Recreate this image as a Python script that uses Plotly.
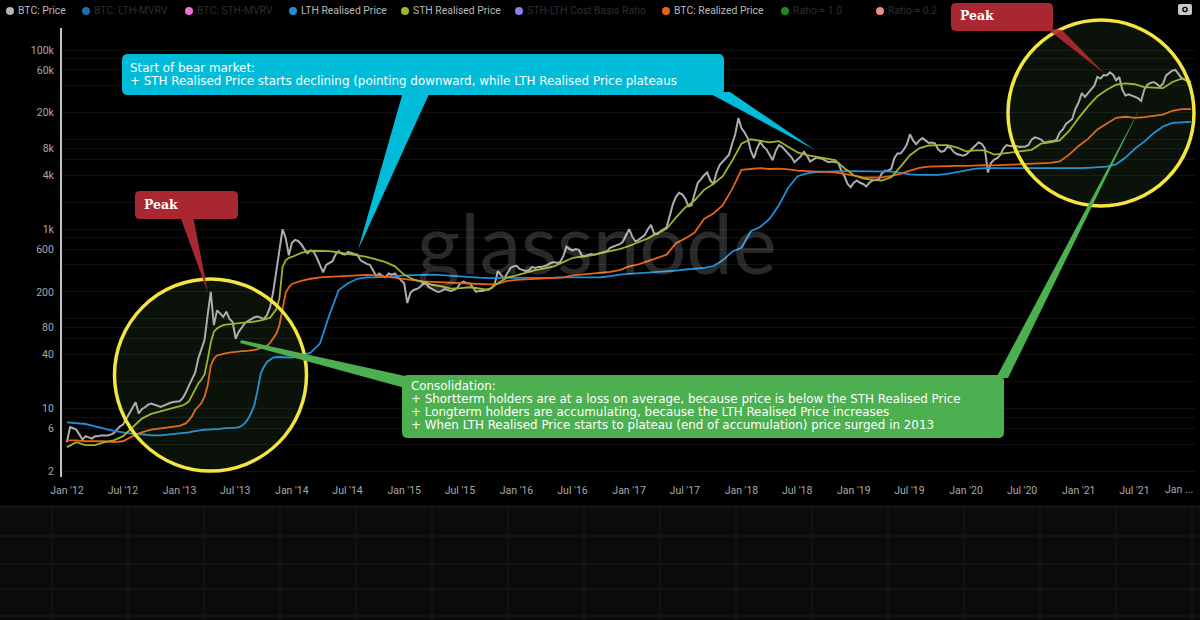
import pandas as pd
import plotly.graph_objects as go

# ---- price, three readings a month ----
price_2012 = [4.2,6.2,6.0, 5.8,5.1,4.5, 4.9,4.7,4.6, 4.9,4.9,5.0, 5.0,5.0,5.1, 5.3,5.8,6.3,
              6.6,7.6,8.8, 10.4,11.7,8.8, 9.8,10.3,11.0, 11.3,10.9,10.7, 10.4,10.8,11.2, 11.5,11.8,12.0]
price_2013 = [12,13,15, 18,21,25, 36,45,58, 110,200,85, 124,115,105, 120,100,92, 60,72,82,
              90,95,100, 104,106,102, 100,110,135, 200,350,650, 1000,800,513]
price_2014 = [700,760,740, 680,600,540, 580,560,480, 390,330,400, 420,440,520, 570,530,520,
              560,550,530, 520,450,430, 410,400,340, 300,320,300, 290,320,310, 320,290,270]
price_2015 = [250,150,195, 210,215,225, 245,250,225, 215,205,200, 205,215,210, 205,210,220,
              250,260,250, 250,225,200, 205,205,210, 215,220,245, 340,310,280, 320,370,385]
price_2016 = [390,360,350, 340,350,380, 370,380,380, 390,400,420, 430,420,430, 500,640,600,
              580,600,590, 500,500,520, 530,520,530, 540,550,570, 620,640,650, 680,720,850]
price_2017 = [1000,830,730, 760,800,860, 1000,1120,900, 880,950,1000, 1050,1400,1900, 2300,2550,2450,
              2200,1800,1850, 2500,3300,3600, 4000,4300,3500, 3200,4300,5200, 5700,6300,6800, 9000,11500,17400]
price_2018 = [13500,12000,10400, 7500,6200,8000, 9400,8400,7800, 6800,5900,7500, 8700,8300,7600, 7100,6400,5600,
              6000,6500,7300, 6600,5700,6000, 6300,6200,6100, 5800,5600,5700, 5600,5500,4500, 3900,3200,2950]
price_2019 = [3300,3500,3300, 3200,3000,3300, 3500,3550,3600, 4200,4500,4500, 4700,6200,7000, 7000,7700,8800,
              11500,9800,8900, 9800,10400,9800, 9200,9300,9100, 7800,7300,7500, 8300,8100,7300, 6900,6800,6600]
price_2020 = [6800,7300,7900, 8600,9300,9000, 8000,4300,5500, 6000,6200,6800, 8000,8700,8500, 8500,8500,8300,
              8300,8400,8700, 10000,10600,10400, 10000,9300,9400, 9600,9600,10000, 12000,13000,15000, 16000,17000,22000]
price_2021 = [26000,33000,30000, 33000,36000,40000, 50000,48000,52500, 52000,56500,53000, 46000,50000,36000,
              31000,32000,31000, 30000,29000,27000, 36000,41000,43000, 44000,42000,39000, 42000,52000,56000,
              59000,60000,53000, 48500,47000,44000, 41000]

# ---- STH realised price ----
sth_2012 = [3.7,4.2,3.9,3.9,4.2,4.4,4.9,6.2,7.7,8.7,9.3,10]
sth_2013 = [10.5,10.8,11.3, 12,14,16.5, 19,21,24, 35,54,72, 78,82,85, 86,87,88, 89,90,90, 91,92,92,
            93,95,96, 98,100,103, 115,128,170, 380,450,480]
sth_2014 = [490,545,575,575,570,550,530,515,490,460,430,385]
sth_2015 = [310,275,255,240,230,217,220,225,218,210,250,290]
sth_2016 = [305,330,350,365,385,430,480,495,510,540,570,600]
sth_2017 = [650,720,790,900,1010,1350,1750,2100,2750,3200,3900,5800]
sth_2018 = [9000,10100,9700,9300,9600,8300,7200,6700,6400,6100,5900,4800]
sth_2019 = [4000,3700,3550,3500,3800,5000,6700,8000,8600,8700,8700,8200]
sth_2020 = [7400,7600,7600,6800,7000,7300,7450,7700,9000,9300,9800,12500]
sth_2021 = [17500,23500,30500,36000,41000,42500,41500,38500,38000,37500,44000,48000,44000]

# ---- BTC realized price ----
rp_2012 = [4.4,4.4,4.3,4.3,4.3,4.2,4.3,4.9,5.4,5.8,6.0,6.1]
rp_2013 = [6.4,6.6,6.8, 7.4,8.2,9.6, 10.5,11.5,13.5, 18,30,36, 39,40,41, 41.5,42,42.5, 43,43,43.5, 43.5,44,44,
           45,46,47, 48,50,54, 60,68,85, 135,195,225]
rp_2014 = [245,265,280,290,292,298,302,308,310,305,295,285]
rp_2015 = [275,268,262,258,254,252,250,248,245,242,245,265]
rp_2016 = [272,275,278,280,285,290,305,312,316,322,335,350]
rp_2017 = [385,405,440,470,520,700,790,920,1300,1500,1850,2800]
rp_2018 = [4600,4700,4800,4700,4750,4650,4500,4450,4400,4350,4300,4150]
rp_2019 = [3950,3800,3780,3800,3950,4150,4500,4850,5000,5050,5100,5100]
rp_2020 = [5100,5150,5200,5150,5200,5250,5300,5350,5450,5500,5700,6800]
rp_2021 = [8500,10200,13000,15200,17500,18000,17500,17800,18500,19000,21000,21900,21900]

# ---- LTH realised price ----
lth_2012 = [7.0,6.9,6.7,6.3,5.9,5.6,5.4,5.2,5.15,5.0,5.0,5.1]
lth_2013 = [5.2,5.3,5.35, 5.4,5.5,5.6, 5.7,5.75,5.8, 5.8,5.8,5.85, 5.9,5.9,6.0, 6.0,6.05,6.1, 6.1,6.2,6.4,
            6.9,7.7,9.0, 11,16,24.5, 29,33,35, 37,37.5,37.5, 37,37,37]
lth_2014 = [37,39,42,53,110,210,250,280,290,290,292,298]
lth_2015 = [305,308,310,312,308,302,295,290,288,285,285,284]
lth_2016 = [284,285,285,287,288,290,290,290,290,291,300,312]
lth_2017 = [318,322,328,332,335,345,355,360,370,388,450,560]
lth_2018 = [620,950,1060,1300,1850,2900,3900,4200,4350,4400,4450,4450]
lth_2019 = [4450,4450,4450,4450,4400,4250,4100,4050,4050,4050,4150,4350]
lth_2020 = [4600,4750,4800,4800,4800,4800,4800,4750,4750,4750,4800,4800]
lth_2021 = [4800,4850,4900,5000,5300,6300,7900,9500,11800,14000,15400,15600,15800]

years = list(range(2012, 2022))
series_price = [price_2012,price_2013,price_2014,price_2015,price_2016,price_2017,price_2018,price_2019,price_2020,price_2021]
series_sth = [sth_2012,sth_2013,sth_2014,sth_2015,sth_2016,sth_2017,sth_2018,sth_2019,sth_2020,sth_2021]
series_rp = [rp_2012,rp_2013,rp_2014,rp_2015,rp_2016,rp_2017,rp_2018,rp_2019,rp_2020,rp_2021]
series_lth = [lth_2012,lth_2013,lth_2014,lth_2015,lth_2016,lth_2017,lth_2018,lth_2019,lth_2020,lth_2021]

x_labels = ["Jan '12","Jul '12","Jan '13","Jul '13","Jan '14","Jul '14","Jan '15","Jul '15","Jan '16","Jul '16",
            "Jan '17","Jul '17","Jan '18","Jul '18","Jan '19","Jul '19","Jan '20","Jul '20","Jan '21","Jul '21"]
x_ticks = [f"{y}-{m}-01" for y in years for m in ("01", "07")]
y_ticks = [2,4,6,8,10,20,40,60,80,100,200,400,600,800,1000,2000,4000,6000,8000,10000,20000,40000,60000,80000,100000]
y_labels = ["2","","6","","10","","40","","80","","200","","600","","1k","","4k","","8k","","20k","","60k","","100k"]

legend_names = ["BTC: Price","BTC: LTH-MVRV","BTC: STH-MVRV","LTH Realised Price","STH Realised Price",
                "STH-LTH Cost Basis Ratio","BTC: Realized Price","Ratio = 1.0","Ratio = 0.2"]
legend_on = [True,False,False,True,True,False,True,False,False]
legend_colors = ["#b5b5b5","#1a6fb0","#f06fd8","#1f8fd8","#a2b32a","#8f7df0","#e8621a","#1a8a1a","#f08a8a"]
legend_dot_x = [10,86,189,293,405,519,666,785,880]

bear_lines = ["Start of bear market:",
              "+ STH Realised Price starts declining (pointing downward, while LTH Realised Price plateaus"]
cons_lines = ["Consolidation:",
              "+ Shortterm holders are at a loss on average, because price is below the STH Realised Price",
              "+ Longterm holders are accumulating, because the LTH Realised Price increases",
              "+ When LTH Realised Price starts to plateau (end of accumulation) price surged in 2013"]


def dated(blocks):
    dates, values = [], []
    for year, block in zip(years, blocks):
        step = 12 if len(block) in (12, 13) else 36
        for k, v in enumerate(block):
            dates.append(pd.Timestamp(f"{year}-01-01") + pd.Timedelta(days=k * 365.25 / step))
            values.append(v)
    return dates, values


W, H = 1200, 620
fx = lambda x: x / W
fy = lambda y: 1 - y / H


def poly(points, color):
    d = "M " + " L ".join(f"{fx(x):.5f},{fy(y):.5f}" for x, y in points) + " Z"
    return dict(type="path", xref="paper", yref="paper", path=d, fillcolor=color, line=dict(width=0))


def rbox(x0, y0, x1, y1, r, color):
    a, b, c, e = fx(x0), fx(x1), fy(y0), fy(y1)
    rx, ry = r / W, r / H
    d = (f"M {a+rx:.5f},{c:.5f} L {b-rx:.5f},{c:.5f} Q {b:.5f},{c:.5f} {b:.5f},{c-ry:.5f} "
         f"L {b:.5f},{e+ry:.5f} Q {b:.5f},{e:.5f} {b-rx:.5f},{e:.5f} L {a+rx:.5f},{e:.5f} "
         f"Q {a:.5f},{e:.5f} {a:.5f},{e+ry:.5f} L {a:.5f},{c-ry:.5f} Q {a:.5f},{c:.5f} {a+rx:.5f},{c:.5f} Z")
    return dict(type="path", xref="paper", yref="paper", path=d, fillcolor=color, line=dict(width=0))


def circle(cx, cy, r):
    return dict(type="circle", xref="paper", yref="paper", x0=fx(cx - r), x1=fx(cx + r), y0=fy(cy + r), y1=fy(cy - r),
                fillcolor="rgba(130,210,110,0.085)", line=dict(color="#f4e641", width=3.5))


def dot(cx, cy, r, color):
    return dict(type="circle", xref="paper", yref="paper", x0=fx(cx - r), x1=fx(cx + r), y0=fy(cy + r), y1=fy(cy - r),
                fillcolor=color, line=dict(width=0))


def label(x, y, text, size=11.9, color="#ffffff", family="DejaVu Sans", anchor="left"):
    return dict(xref="paper", yref="paper", x=fx(x), y=fy(y), text=text, showarrow=False, xanchor=anchor,
                yanchor="middle", font=dict(size=size, color=color, family=family), borderpad=0, borderwidth=0)


fig = go.Figure()
for name, blocks, color, width in [
    ("BTC: Price", series_price, "#adadad", 2),
    ("LTH Realised Price", series_lth, "#1f8fd8", 1.8),
    ("BTC: Realized Price", series_rp, "#e8621a", 1.8),
    ("STH Realised Price", series_sth, "#a2b32a", 1.8),
]:
    xs, ys = dated(blocks)
    fig.add_trace(go.Scatter(x=xs, y=ys, name=name, mode="lines", line=dict(color=color, width=width), showlegend=False))

shapes = []
# lower empty panel
shapes.append(dict(type="rect", xref="paper", yref="paper", x0=0, x1=1, y0=fy(620), y1=fy(505),
                   fillcolor="#0b0b0b", line=dict(width=0), layer="below"))
for x in range(52, 1200, 76):
    shapes.append(dict(type="line", xref="paper", yref="paper", x0=fx(x), x1=fx(x), y0=fy(620), y1=fy(506),
                       line=dict(color="#1a1a1a", width=1), layer="below"))
for y in (507, 536, 564, 589, 616):
    shapes.append(dict(type="line", xref="paper", yref="paper", x0=0, x1=1, y0=fy(y), y1=fy(y),
                       line=dict(color="#1a1a1a", width=1), layer="below"))
# spotlight circles
shapes += [circle(210.5, 375, 96), circle(1101, 113, 93)]
# callouts
shapes += [
    poly([(403, 92), (430, 92), (358, 250)], "#00bcd9"),
    poly([(707, 92), (730, 92), (815, 150)], "#00bcd9"),
    rbox(122, 54, 724, 95, 6, "#00bcd9"),
    poly([(180, 216), (193, 216), (208, 293)], "#a92731"),
    rbox(135, 191, 238, 219, 5, "#a92731"),
    poly([(1046, 28), (1062, 30), (1105, 74)], "rgba(185,40,50,0.9)"),
    rbox(951, 3, 1053, 31, 5, "#a92731"),
    poly([(405, 376), (405, 388), (240, 343), (241, 340)], "#4caf50"),
    poly([(996, 378), (1008, 378), (1140, 108)], "#4caf50"),
    rbox(402, 375, 1004, 438, 6, "#4caf50"),
]
# legend dots
for x, c in zip(legend_dot_x, legend_colors):
    shapes.append(dot(x, 11, 4, c))
# camera icon
shapes += [rbox(1178, 4, 1192, 15, 2, "#c8c8c8"), dot(1185, 9.5, 2.8, "#000000"), dot(1185, 9.5, 1.4, "#c8c8c8")]

annotations = []
for x, n, on in zip(legend_dot_x, legend_names, legend_on):
    annotations.append(label(x + 8, 11, n, size=10.4, color="#b8b8b8" if on else "#2e2e2e", family="Roboto"))
annotations.append(label(1193, 489, "Jan ...", size=10.5, color="#a8a8a8", family="Roboto", anchor="right"))
annotations.append(label(597, 242, "glassnode", size=83, color="rgba(255,255,255,0.16)", family="Lato", anchor="center"))
for y, t in zip((68, 81), bear_lines):
    annotations.append(label(130, y, t))
for y, t in zip((385.5, 398.5, 411.5, 424.5), cons_lines):
    annotations.append(label(411, y, t))
annotations.append(label(144, 205, "<b>Peak</b>", size=12.5, family="DejaVu Serif"))
annotations.append(label(960, 16, "<b>Peak</b>", size=12.5, family="DejaVu Serif"))

x_left = pd.Timestamp("2012-01-01") - pd.Timedelta(days=16)
x_right = pd.Timestamp("2022-01-14")
y_low = 1 - (477 - 408.5) / 89.5
y_high = 5 + (50 - 28) / 89.5

fig.update_layout(
    width=W, height=H, margin=dict(l=0, r=0, t=0, b=0, pad=0),
    paper_bgcolor="#000000", plot_bgcolor="#000000", showlegend=False,
    shapes=shapes, annotations=annotations,
    xaxis=dict(domain=[fx(62), fx(1195)], range=[x_left, x_right], tickvals=x_ticks, ticktext=x_labels,
               showgrid=False, zeroline=False, showline=False, ticks="outside", ticklen=3, tickcolor="rgba(0,0,0,0)",
               tickfont=dict(size=10.5, color="#a8a8a8", family="Roboto"), tickangle=0, automargin=False),
    yaxis=dict(domain=[fy(477), fy(28)], type="log", range=[y_low, y_high], tickvals=y_ticks, ticktext=y_labels,
               showgrid=True, gridcolor="#111111", gridwidth=1, zeroline=False, showline=True, linecolor="#c4c4c4",
               linewidth=2, ticks="", ticklabelstandoff=4, tickfont=dict(size=10.5, color="#a8a8a8", family="Roboto"),
               automargin=False),
)
fig.write_html("out.html", config=dict(displayModeBar=False),
               post_script="document.body.style.margin='0';document.body.style.background='#000';document.body.style.overflow='hidden';")
